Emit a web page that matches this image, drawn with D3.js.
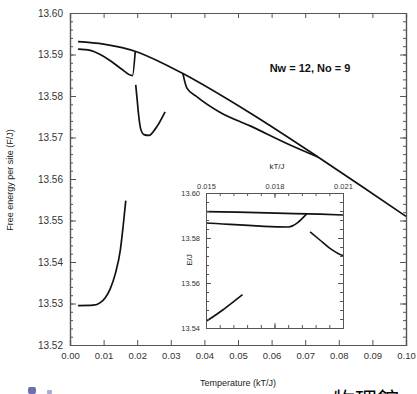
<!DOCTYPE html>
<html>
<head>
<meta charset="utf-8">
<script src="https://cdn.jsdelivr.net/npm/d3@7"></script>
<style>
  body { margin: 0; background: #fff; }
  svg { display: block; font-family: "Liberation Sans", Arial, sans-serif; }
  .axis path, .axis line { stroke: #555; }
  .axis text { fill: #333; }
</style>
</head>
<body>
<div id="chart"></div>
<script>
// upper branch
const tA = [0.0024, 0.010, 0.020, 0.0268, 0.0336, 0.0536, 0.0738, 0.0869, 0.100];
const eA = [13.5931, 13.5925, 13.5906, 13.5882, 13.5854, 13.5759, 13.5653, 13.5582, 13.5510];
// lower branch joining at ~0.019
const tB = [0.0024, 0.006, 0.009, 0.012, 0.015, 0.0186, 0.0194];
const eB = [13.5913, 13.5910, 13.5900, 13.5885, 13.5867, 13.5849, 13.5906];
// dip after 0.0195
const tC = [0.01956, 0.0200, 0.0204, 0.0210, 0.0220, 0.0235, 0.0255, 0.0283];
const eC = [13.5827, 13.5790, 13.5756, 13.5722, 13.5707, 13.5705, 13.5722, 13.5762];
// branch from 0.0336 merging at ~0.074
const tD = [0.0336, 0.0348, 0.0378, 0.0446, 0.0536, 0.0655, 0.0738];
const eD = [13.5854, 13.5819, 13.5798, 13.5761, 13.5728, 13.5682, 13.5653];
// lowest branch
const tE = [0.0024, 0.0070, 0.0090, 0.0105, 0.0120, 0.0135, 0.0150, 0.0158, 0.0166];
const eE = [13.5295, 13.5296, 13.5302, 13.5314, 13.5336, 13.5372, 13.5430, 13.5485, 13.5548];

const xTicks = [0, 0.01, 0.02, 0.03, 0.04, 0.05, 0.06, 0.07, 0.08, 0.09, 0.10];
const yTicks = [13.52, 13.53, 13.54, 13.55, 13.56, 13.57, 13.58, 13.59, 13.60];
const insetXTicks = [0.015, 0.018, 0.021];
const insetYTicks = [13.54, 13.56, 13.58, 13.60];

const series = [[tA, eA], [tB, eB], [tC, eC], [tD, eD], [tE, eE]];

const W = 417, H = 394;
const svg = d3.select("#chart").append("svg")
    .attr("width", W).attr("height", H);

const x = d3.scaleLinear().domain([0, 0.1]).range([70, 406]);
const y = d3.scaleLinear().domain([13.52, 13.60]).range([345, 13]);

// --- main axes ---
function drawAxis(axis, tx, ty, cls) {
    const g = svg.append("g").attr("class", "axis " + (cls || ""))
        .attr("transform", `translate(${tx},${ty})`).call(axis);
    return g;
}
const yMinor = d3.range(13.52, 13.6001, 0.002);
drawAxis(d3.axisLeft(y).tickValues(yMinor).tickSize(-3).tickFormat(""), 70, 0);
drawAxis(d3.axisRight(y).tickValues(yMinor).tickSize(-3).tickFormat(""), 406, 0);
drawAxis(d3.axisLeft(y).tickValues(yTicks).tickSize(-6).tickPadding(7).tickFormat(d3.format(".2f")), 70, 0)
    .selectAll("text").style("font-size", "10px");
drawAxis(d3.axisRight(y).tickValues(yTicks).tickSize(-6).tickFormat(""), 406, 0);
drawAxis(d3.axisBottom(x).tickValues(xTicks).tickSize(-5).tickPadding(7).tickFormat(d3.format(".2f")), 0, 345)
    .selectAll("text").style("font-size", "9.5px");
drawAxis(d3.axisTop(x).tickValues(xTicks).tickSize(-5).tickFormat(""), 0, 13);

svg.selectAll(".axis path.domain").attr("stroke-width", 1.2);

svg.append("text")
    .attr("x", 238).attr("y", 386)
    .attr("text-anchor", "middle")
    .style("font-size", "9px").attr("fill", "#222")
    .text("Temperature (kT/J)");

svg.append("text")
    .attr("transform", "translate(13,180) rotate(-90)")
    .attr("text-anchor", "middle")
    .style("font-size", "9px").attr("fill", "#222")
    .text("Free energy per site (F/J)");

svg.append("text")
    .attr("x", 310).attr("y", 72)
    .attr("text-anchor", "middle")
    .style("font-size", "11px").style("font-weight", "bold").attr("fill", "#111")
    .text("Nw = 12, No = 9");

// --- main curves ---
const line = d3.line()
    .x(d => x(d[0])).y(d => y(d[1]))
    .curve(d3.curveMonotoneX);

svg.append("g").selectAll("path")
    .data(series)
    .join("path")
    .attr("d", s => line(s[0].map((t, i) => [t, s[1][i]])))
    .attr("fill", "none")
    .attr("stroke", "#111")
    .attr("stroke-width", 1.7);

// --- inset ---
const xi = d3.scaleLinear().domain([0.015, 0.021]).range([206, 343]);
const yi = d3.scaleLinear().domain([13.54, 13.60]).range([328, 193]);

svg.append("rect")
    .attr("x", 206).attr("y", 193).attr("width", 137).attr("height", 135)
    .attr("fill", "#fff");

svg.append("clipPath").attr("id", "insetClip")
    .append("rect").attr("x", 206).attr("y", 193).attr("width", 137).attr("height", 135);

const lineI = d3.line()
    .x(d => xi(d[0])).y(d => yi(d[1]))
    .curve(d3.curveMonotoneX);

svg.append("g").attr("clip-path", "url(#insetClip)")
    .selectAll("path")
    .data(series)
    .join("path")
    .attr("d", s => lineI(s[0].map((t, i) => [t, s[1][i]])))
    .attr("fill", "none")
    .attr("stroke", "#111")
    .attr("stroke-width", 1.6);

const xiMinor = d3.range(0.015, 0.02101, 0.0006);
const yiMinor = d3.range(13.54, 13.6001, 0.004);
drawAxis(d3.axisTop(xi).tickValues(xiMinor).tickSize(-3).tickFormat(""), 0, 193);
drawAxis(d3.axisBottom(xi).tickValues(xiMinor).tickSize(-3).tickFormat(""), 0, 328);
drawAxis(d3.axisLeft(yi).tickValues(yiMinor).tickSize(-3).tickFormat(""), 206, 0);
drawAxis(d3.axisRight(yi).tickValues(yiMinor).tickSize(-3).tickFormat(""), 343, 0);
drawAxis(d3.axisTop(xi).tickValues(insetXTicks).tickSize(-5).tickPadding(4).tickFormat(d3.format(".3f")), 0, 193)
    .selectAll("text").style("font-size", "7.5px");
drawAxis(d3.axisBottom(xi).tickValues(insetXTicks).tickSize(-5).tickFormat(""), 0, 328);
drawAxis(d3.axisLeft(yi).tickValues(insetYTicks).tickSize(-5).tickPadding(6).tickFormat(d3.format(".2f")), 206, 0)
    .selectAll("text").style("font-size", "7.5px");
drawAxis(d3.axisRight(yi).tickValues(insetYTicks).tickSize(-5).tickFormat(""), 343, 0);

svg.append("text")
    .attr("x", 277).attr("y", 169)
    .attr("text-anchor", "middle")
    .style("font-size", "8px").attr("fill", "#222")
    .text("kT/J");

svg.append("text")
    .attr("transform", "translate(192,260) rotate(-90)")
    .attr("text-anchor", "middle")
    .style("font-size", "8px").attr("fill", "#222")
    .text("E/J");

// --- page fragments at the bottom ---
svg.append("rect").attr("x", 28).attr("y", 387).attr("width", 8).attr("height", 7)
    .attr("fill", "#6d6db0").attr("rx", 2);
svg.append("rect").attr("x", 47).attr("y", 390).attr("width", 5).attr("height", 4)
    .attr("fill", "#a9a9d6").attr("rx", 1);

// cut off by the bottom edge, as in the reference
svg.append("text")
    .attr("x", 333).attr("y", 408)
    .style("font-size", "22px").style("font-family", "'Noto Sans CJK TC', sans-serif")
    .attr("fill", "#000")
    .text("物理館");
</script>
</body>
</html>
